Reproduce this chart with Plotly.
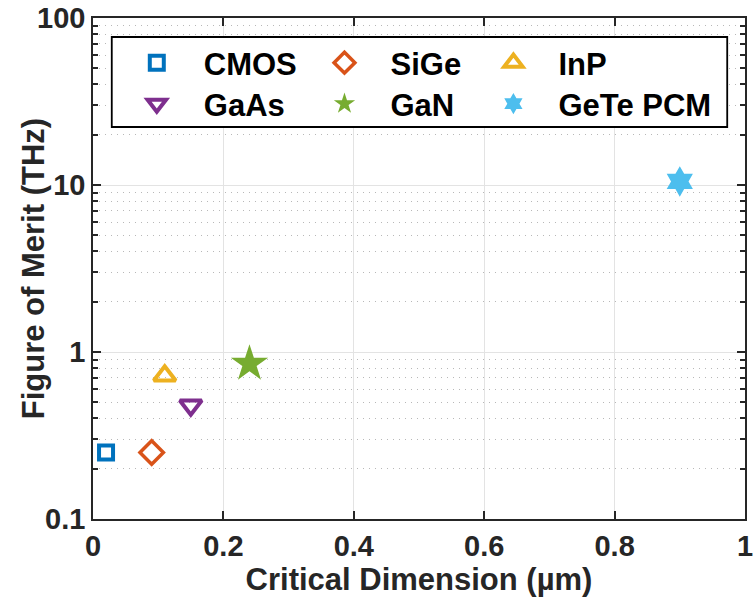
import plotly.graph_objects as go

# Device technologies and their figure of merit vs. critical dimension
technologies = ["CMOS", "SiGe", "InP", "GaAs", "GaN", "GeTe PCM"]
critical_dimension_um = [0.02, 0.09, 0.11, 0.15, 0.24, 0.90]
figure_of_merit_thz = [0.25, 0.25, 0.72, 0.48, 0.85, 10.5]

colors = ["#0072BD", "#D95319", "#EDB120", "#7E2F8E", "#77AC30", "#4DBEEE"]
symbols = ["square-open", "diamond-open", "triangle-up-open",
           "triangle-down-open", "star", "hexagram"]
marker_sizes = [14, 18, 19, 19, 28, 23]
marker_lines = [4, 3.5, 4, 4, 0, 0]

x_ticks = [0, 0.2, 0.4, 0.6, 0.8, 1]
x_tick_text = ["0", "0.2", "0.4", "0.6", "0.8", "1"]
y_ticks = [0.1, 1, 10, 100]
y_tick_text = ["0.1", "1", "10", "100"]
y_minor = [m * d for d in (0.1, 1, 10) for m in range(2, 10)]

FONT = "Liberation Sans, Arial, sans-serif"
AX = "#262626"

# plot-area geometry in pixels, used to place legend entries and the box
W, H = 660.0, 501.0
L, T = 93.0, 18.0
col_px = [157, 347, 518]
text_px = [204, 393, 563]
row_px = [63, 104]

fig = go.Figure()
legend_layout = {}
for i, name in enumerate(technologies):
    lname = "legend" if i == 0 else f"legend{i + 1}"
    fig.add_trace(go.Scatter(
        x=[critical_dimension_um[i]], y=[figure_of_merit_thz[i]],
        mode="markers", name=name, legend=lname, showlegend=True,
        marker=dict(symbol=symbols[i], size=marker_sizes[i], color=colors[i],
                    line=dict(color=colors[i], width=marker_lines[i])),
    ))
    c, r = i % 3, i // 3
    # symbol centre at (itemwidth + 10)/2, text at itemwidth + 10
    itemw = 2 * (text_px[c] - col_px[c]) - 10
    left_px = text_px[c] - itemw - 10
    legend_layout[lname] = dict(
        x=(left_px - L) / W, xanchor="left",
        y=1 - (row_px[r] - T) / H, yanchor="middle",
        bgcolor="rgba(0,0,0,0)", borderwidth=0,
        itemwidth=itemw, itemclick=False, visible=True,
        font=dict(family=FONT, size=31, color="black", weight="bold"),
    )

fig.update_layout(
    width=753, height=598, showlegend=True,
    margin=dict(l=L, r=0, t=T, b=79),
    paper_bgcolor="white", plot_bgcolor="white",
    font=dict(family=FONT, color=AX),
    shapes=[dict(type="rect", xref="paper", yref="paper",
                 x0=(112 - L) / W, x1=(735 - L) / W,
                 y0=1 - (127 - T) / H, y1=1 - (37 - T) / H,
                 line=dict(color="black", width=1.8), fillcolor="white",
                 layer="above")],
    annotations=[dict(text="Figure of Merit (THz)", textangle=-90,
                      xref="paper", yref="paper", x=(33 - L) / W, y=0.5,
                      xanchor="center", yanchor="middle", showarrow=False,
                      font=dict(family=FONT, size=31, color=AX, weight="bold"))],
    **legend_layout,
)

fig.update_xaxes(
    range=[0, 1], tickvals=x_ticks, ticktext=x_tick_text,
    ticks="inside", ticklen=8, tickwidth=1.5, tickcolor=AX,
    showline=True, linecolor=AX, linewidth=1.5, mirror="ticks",
    showgrid=True, gridcolor="#e3e3e3", gridwidth=1, zeroline=False,
    ticklabeloverflow="allow",
    tickfont=dict(family=FONT, size=29, color=AX, weight="bold"),
    title=dict(text="Critical Dimension (µm)", standoff=0,
               font=dict(family=FONT, size=31, color=AX, weight="bold")),
)
fig.update_yaxes(
    type="log", range=[-1, 2], tickvals=y_ticks, ticktext=y_tick_text,
    ticks="inside", ticklen=8, tickwidth=1.5, tickcolor=AX,
    showline=True, linecolor=AX, linewidth=1.5, mirror="ticks",
    showgrid=True, gridcolor="#e3e3e3", gridwidth=1, zeroline=False,
    minor=dict(tickvals=y_minor, ticks="inside", ticklen=5, tickcolor=AX,
               showgrid=True, gridcolor="#b8b8b8", griddash="1px,5px",
               gridwidth=1),
    tickfont=dict(family=FONT, size=29, color=AX, weight="bold"),
)

fig.write_html("out.html")
